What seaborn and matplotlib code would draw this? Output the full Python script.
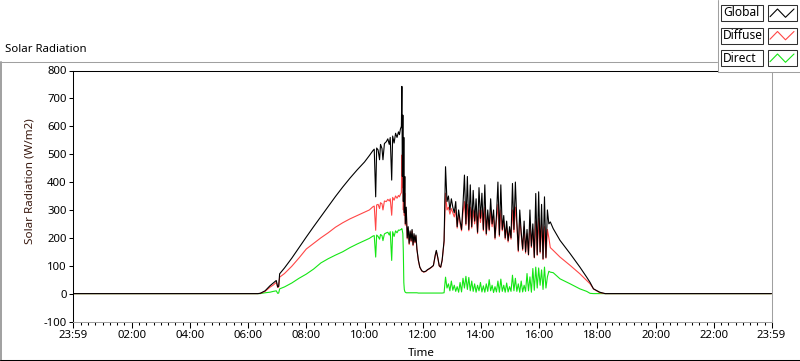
import matplotlib
matplotlib.use("Agg")
import numpy as np
import pandas as pd
import matplotlib.pyplot as plt
import seaborn as sns
from matplotlib.lines import Line2D
from matplotlib.patches import Rectangle

# ---------------- data ----------------
# morning: night zero level and smooth rise
times_am = ["-00:01", "06:20", "06:25", "06:35", "06:45", "06:52", "06:58", "07:01", "07:03",
            "07:05", "07:15", "07:30", "07:45", "08:00", "08:15", "08:30", "08:45", "09:00",
            "09:15", "09:30", "09:45", "10:00", "10:10"]
global_am = [0, 0, 1, 10, 28, 38, 47, 24, 26, 71, 92, 127, 165, 203, 240, 276, 312, 348,
             382, 414, 444, 472, 495]
diffuse_am = [0, 0, 1, 8, 23, 31, 40, 22, 24, 59, 72, 98, 128, 160, 180, 200, 218, 238,
              254, 268, 280, 292, 300]
direct_am = [0, 0, 0, 3, 5, 8, 10, 1, 2, 17, 24, 38, 55, 70, 88, 110, 125, 138,
             150, 165, 178, 190, 198]

# late morning / noon: clouds, peak and midday trough
times_mid = ["10:17", "10:20", "10:23", "10:25", "10:28", "10:31", "10:33", "10:36", "10:38",
             "10:41", "10:45", "10:48", "10:51", "10:53", "10:56", "10:58", "11:01", "11:04",
             "11:07", "11:10", "11:12", "11:14", "11:16", "11:17", "11:18", "11:19", "11:20",
             "11:21", "11:22", "11:23", "11:24", "11:26", "11:28", "11:30", "11:32", "11:34",
             "11:36", "11:38", "11:40", "11:42", "11:44", "11:46", "11:48", "11:51", "11:54",
             "11:58", "12:02", "12:06", "12:10", "12:14", "12:18", "12:22", "12:26", "12:28",
             "12:31", "12:34", "12:37", "12:40", "12:44", "12:47"]
global_mid = [512, 518, 347, 522, 515, 480, 535, 520, 480,
              538, 545, 555, 535, 560, 407, 565, 540, 575,
              560, 580, 570, 590, 600, 743, 420, 640, 330,
              560, 290, 420, 250, 310, 200, 240, 180, 225,
              190, 230, 175, 215, 185, 210, 160, 120, 95,
              82, 78, 80, 86, 90, 95, 101, 140, 155,
              130, 100, 95, 120, 190, 455]
diffuse_mid = [311, 314, 227, 318, 320, 305, 326, 322, 300,
               332, 330, 338, 332, 340, 281, 345, 335, 350,
               342, 352, 347, 356, 362, 497, 380, 420, 300,
               380, 280, 360, 245, 300, 196, 232, 176, 220,
               186, 225, 172, 210, 182, 205, 158, 118, 94,
               81, 77, 79, 85, 89, 94, 100, 138, 152,
               128, 99, 94, 118, 185, 360]
direct_mid = [206, 208, 131, 210, 205, 195, 212, 208, 190,
              214, 218, 220, 210, 222, 119, 222, 205, 225,
              218, 228, 227, 229, 231, 233, 225, 215, 150,
              40, 15, 8, 5, 3, 3, 3, 3, 3,
              3, 3, 3, 3, 3, 3, 3, 2, 2,
              2, 2, 2, 2, 2, 2, 2, 2, 2,
              2, 2, 2, 2, 3, 59]

# afternoon: broken clouds
times_pm = ["12:50", "12:53", "12:56", "12:59", "13:02", "13:05", "13:08", "13:11", "13:14",
            "13:17", "13:20", "13:23", "13:26", "13:29", "13:32", "13:35", "13:38", "13:41",
            "13:44", "13:47", "13:50", "13:53", "13:56", "13:59", "14:02", "14:05", "14:08",
            "14:11", "14:14", "14:17", "14:20", "14:23", "14:26", "14:29", "14:32", "14:35",
            "14:38", "14:41", "14:44", "14:47", "14:50", "14:53", "14:56", "14:59", "15:02",
            "15:05", "15:08", "15:11", "15:14", "15:17", "15:20", "15:23", "15:26", "15:29",
            "15:32", "15:35", "15:38", "15:41", "15:44", "15:47", "15:50", "15:53", "15:56",
            "15:59", "16:02", "16:05", "16:08", "16:11", "16:14", "16:17", "16:20", "16:23"]
global_pm = [330, 350, 300, 340, 310, 290, 330, 240, 300,
             260, 230, 320, 425, 250, 420, 230, 390, 240,
             370, 260, 340, 220, 380, 270, 360, 230, 390,
             215, 300, 230, 340, 250, 300, 200, 280, 400,
             210, 390, 230, 280, 200, 260, 190, 240, 200,
             395, 230, 400, 260, 155, 300, 220, 160, 260,
             150, 230, 140, 300, 170, 250, 130, 359, 140,
             365, 150, 320, 125, 347, 130, 300, 250, 257]
diffuse_pm = [300, 310, 285, 305, 290, 275, 300, 235, 285,
              250, 225, 290, 330, 245, 320, 225, 310, 235,
              300, 250, 295, 215, 300, 255, 300, 225, 310,
              210, 280, 225, 300, 240, 280, 195, 260, 320,
              205, 300, 225, 260, 195, 240, 185, 225, 195,
              300, 220, 310, 245, 150, 270, 210, 155, 240,
              145, 215, 138, 250, 165, 230, 128, 260, 137,
              270, 145, 250, 122, 240, 127, 230, 200, 165]
direct_pm = [20, 35, 10, 45, 12, 30, 8, 25, 5,
             40, 6, 55, 20, 62, 15, 58, 10, 45,
             8, 35, 5, 30, 10, 40, 6, 28, 5,
             35, 8, 50, 10, 30, 4, 25, 6, 45,
             5, 52, 8, 30, 5, 38, 6, 25, 8,
             66, 10, 55, 8, 35, 5, 45, 6, 30,
             8, 72, 10, 60, 5, 90, 12, 95, 20,
             92, 30, 85, 15, 95, 20, 60, 80, 77]

# evening: smooth decline and night zero level
times_eve = ["16:29", "16:43", "17:04", "17:24", "17:38", "17:45", "17:52", "18:05", "18:16", "23:59"]
global_eve = [233, 191, 143, 95, 59, 40, 17, 5, 0, 0]
diffuse_eve = [155, 131, 101, 71, 47, 35, 17, 3, 0, 0]
direct_eve = [75, 53, 35, 17, 8, 1, 0, 0, 0, 0]

series_names = ["Global", "Diffuse", "Direct"]
series_colors = ["#000000", "#ff4646", "#14e614"]
x_tick_labels = ["23:59", "02:00", "04:00", "06:00", "08:00", "10:00", "12:00",
                 "14:00", "16:00", "18:00", "20:00", "22:00", "23:59"]
y_ticks = [-100, 0, 100, 200, 300, 400, 500, 600, 700, 800]


def hrs(s):
    sign = -1 if s.startswith("-") else 1
    h, m = s.lstrip("-").split(":")
    return sign * (int(h) + int(m) / 60.0)


times = times_am + times_mid + times_pm + times_eve
t_h = [hrs(s) for s in times]
df = pd.DataFrame({
    "t": t_h,
    "Global": global_am + global_mid + global_pm + global_eve,
    "Diffuse": diffuse_am + diffuse_mid + diffuse_pm + diffuse_eve,
    "Direct": direct_am + direct_mid + direct_pm + direct_eve,
})
long = df.melt(id_vars="t", var_name="series", value_name="value")

# ---------------- figure ----------------
sns.set_theme(style="white")
plt.rcParams["font.family"] = ["Noto Sans", "DejaVu Sans"]

W, H = 800, 361
fig = plt.figure(figsize=(W / 100, H / 100), dpi=100, facecolor="white")


def fx(x):
    return x / W


def fy(y):
    return 1 - y / H


ax = fig.add_axes([fx(73), fy(321.5), (771.5 - 73) / W, (321.5 - 70.5) / H])
ax.set_facecolor("white")
sns.lineplot(data=long, x="t", y="value", hue="series",
             hue_order=["Direct", "Diffuse", "Global"],
             palette={n: c for n, c in zip(series_names, series_colors)},
             estimator=None, legend=False, linewidth=0.8, ax=ax)

ax.set_xlim(hrs("-00:01"), hrs("23:59"))
ax.set_ylim(-100, 800)
major_pos = [hrs("-00:01")] + list(range(2, 24, 2)) + [hrs("23:59")]
ax.set_xticks(major_pos)
ax.set_xticklabels(x_tick_labels)
minor_pos = [q / 4 for q in range(1, 96) if q % 8 != 0]
ax.set_xticks(minor_pos, minor=True)
ax.set_yticks(y_ticks)
ax.set_yticklabels([str(v) for v in y_ticks])
ax.set_xlabel("")
ax.set_ylabel("")
ax.grid(False)

ax.tick_params(axis="both", which="both", direction="out", color="black",
               width=0.75, labelcolor="black", labelsize=8.2,
               bottom=True, left=True, top=False, right=False)
ax.tick_params(axis="x", which="major", length=4.3, pad=2)
ax.tick_params(axis="x", which="minor", length=2.5)
ax.tick_params(axis="y", which="major", length=3, pad=1.5)

for side, col in [("left", "black"), ("top", "black"), ("right", "#a0a0a0"), ("bottom", "#a0a0a0")]:
    ax.spines[side].set_visible(True)
    ax.spines[side].set_color(col)
    ax.spines[side].set_linewidth(0.75)

# panel frame
fig.add_artist(Line2D([fx(0), fx(717)], [fy(62), fy(62)], color="#a0a0a0", lw=0.75))
fig.add_artist(Line2D([fx(1), fx(1)], [fy(62), fy(361)], color="#a0a0a0", lw=1.4))
fig.add_artist(Line2D([fx(0), fx(800)], [fy(359.5), fy(359.5)], color="black", lw=0.75))

# texts
fig.text(fx(5), fy(50), "Solar Radiation", ha="left", va="center", fontsize=8.2, color="black")
fig.text(fx(30), fy(181), "Solar Radiation (W/m2)", rotation=90, ha="center", va="center",
         fontsize=8.4, color="#3a1a10")
fig.text(fx(421), fy(353), "Time", ha="center", va="center", fontsize=8.4, color="black")

# legend (drawn as in the reference)
fig.add_artist(Rectangle((fx(717.5), fy(72)), 1 - fx(717.5), fy(0) - fy(72),
                         transform=fig.transFigure, facecolor="white", edgecolor="none", zorder=5))
fig.add_artist(Line2D([fx(717.5), fx(717.5)], [fy(0), fy(72)], color="#a0a0a0", lw=0.75, zorder=6))
fig.add_artist(Line2D([fx(717.5), fx(800)], [fy(72), fy(72)], color="#a0a0a0", lw=0.75, zorder=6))
for i, (name, col) in enumerate(zip(series_names, series_colors)):
    dy = i * 22.5
    fig.add_artist(Rectangle((fx(721), fy(21 + dy)), fx(763) - fx(721), fy(5 + dy) - fy(21 + dy),
                             transform=fig.transFigure, facecolor="white", edgecolor="#303030",
                             lw=0.75, zorder=6))
    fig.add_artist(Rectangle((fx(768), fy(21 + dy)), fx(797) - fx(768), fy(5 + dy) - fy(21 + dy),
                             transform=fig.transFigure, facecolor="white", edgecolor="#303030",
                             lw=0.75, zorder=6))
    zx = [fx(770), fx(777.5), fx(785.5), fx(794)]
    zy = [fy(16.7 + dy), fy(9 + dy), fy(17.3 + dy), fy(9 + dy)]
    fig.add_artist(Line2D(zx, zy, color=col, lw=0.8, zorder=7))
    fig.text(fx(723), fy(13 + dy), name, ha="left", va="center", fontsize=8.6,
             color="black", zorder=7)

fig.savefig("out.png", dpi=100, facecolor="white")
